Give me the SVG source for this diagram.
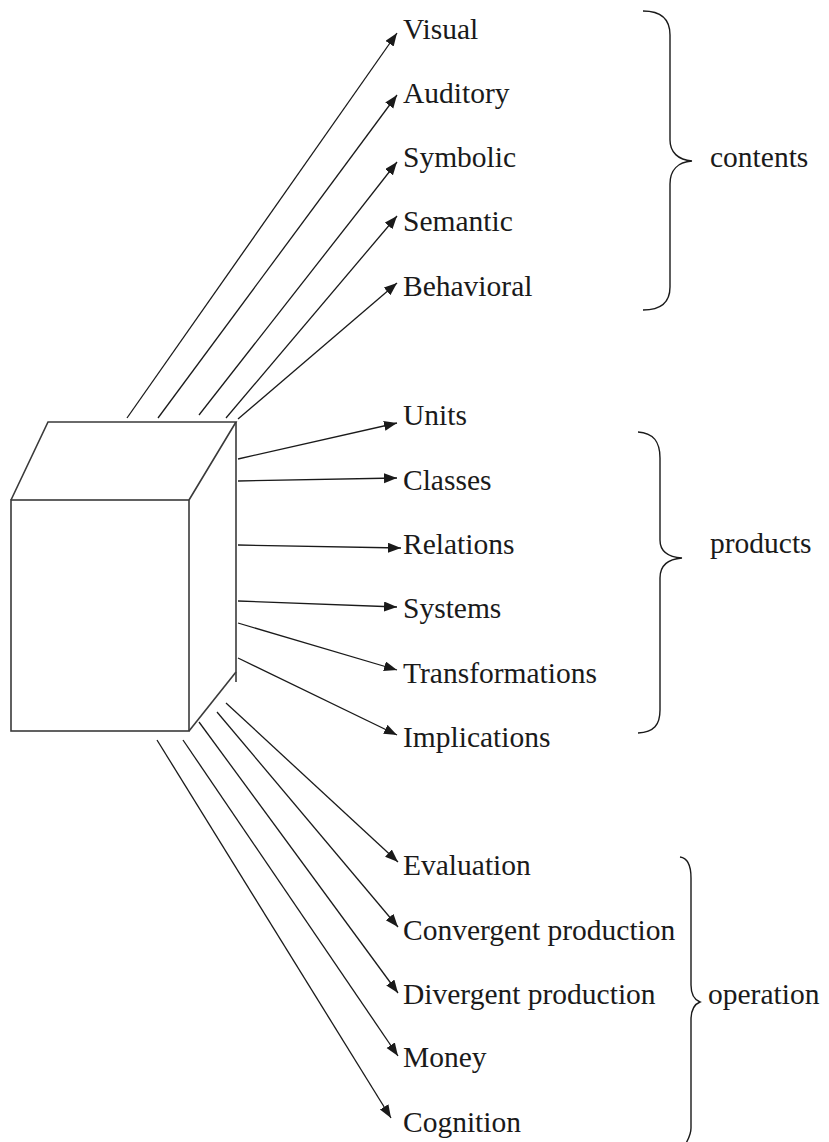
<svg xmlns="http://www.w3.org/2000/svg" width="829" height="1142" viewBox="0 0 829 1142">
<style>
.lbl{font-family:"Liberation Serif","Times New Roman",serif;font-size:29.5px;fill:#1a1a1a}
.cube{fill:none;stroke:#3a3a3a;stroke-width:1.6;stroke-linejoin:miter}
.arr{fill:none;stroke:#1a1a1a;stroke-width:1.3;marker-end:url(#ah)}
.brace{fill:none;stroke:#1a1a1a;stroke-width:1.4}
</style>
<defs>
<marker id="ah" markerUnits="userSpaceOnUse" markerWidth="14" markerHeight="12" viewBox="0 0 14 12" refX="13" refY="5" orient="auto">
<path d="M0,0 L13,5 L0,10 z" fill="#1a1a1a"/>
</marker>
</defs>
<rect width="829" height="1142" fill="#fff"/>
<g id="cube">
<rect class="cube" x="11" y="500" width="178" height="231"/>
<path class="cube" d="M11,500 L48,422 L236,422 L189,500"/>
<path class="cube" d="M236,422 L236,682"/>
<path class="cube" d="M236,672 L189,731"/>
</g>
<g id="connectors">
<line class="arr" x1="127" y1="418" x2="397" y2="33"/>
<line class="arr" x1="158" y1="418" x2="397" y2="95"/>
<line class="arr" x1="199" y1="415" x2="397" y2="162"/>
<line class="arr" x1="226" y1="418" x2="397" y2="216"/>
<line class="arr" x1="238" y1="419" x2="397" y2="283"/>
<line class="arr" x1="238" y1="459" x2="397" y2="423"/>
<line class="arr" x1="238" y1="481" x2="397" y2="478"/>
<line class="arr" x1="238" y1="545" x2="401" y2="548"/>
<line class="arr" x1="238" y1="601" x2="397" y2="607"/>
<line class="arr" x1="238" y1="623" x2="397" y2="670"/>
<line class="arr" x1="238" y1="658" x2="397" y2="735"/>
<line class="arr" x1="226" y1="703" x2="398" y2="862"/>
<line class="arr" x1="217" y1="712" x2="398" y2="927"/>
<line class="arr" x1="199" y1="722" x2="398" y2="993"/>
<line class="arr" x1="183" y1="740" x2="398" y2="1056"/>
<line class="arr" x1="157" y1="740" x2="391" y2="1118"/>
</g>
<g id="contents-items">
<text class="lbl" x="403" y="39">Visual</text>
<text class="lbl" x="403" y="103">Auditory</text>
<text class="lbl" x="403" y="167">Symbolic</text>
<text class="lbl" x="403" y="231">Semantic</text>
<text class="lbl" x="403" y="296">Behavioral</text>
</g>
<g id="products-items">
<text class="lbl" x="403" y="425">Units</text>
<text class="lbl" x="403" y="490">Classes</text>
<text class="lbl" x="403" y="554">Relations</text>
<text class="lbl" x="403" y="618">Systems</text>
<text class="lbl" x="403" y="683">Transformations</text>
<text class="lbl" x="403" y="747">Implications</text>
</g>
<g id="operation-items">
<text class="lbl" x="403" y="875">Evaluation</text>
<text class="lbl" x="403" y="940">Convergent production</text>
<text class="lbl" x="403" y="1004">Divergent production</text>
<text class="lbl" x="403" y="1067">Money</text>
<text class="lbl" x="403" y="1132">Cognition</text>
</g>
<g id="contents">
<path class="brace" d="M643,11 C662,11 670,20 670,35 L670,140 C670,152 678,160 692,161 C678,162 670,170 670,184 L670,287 C670,302 662,310 643,310"/>
<text class="lbl" x="710" y="167">contents</text>
</g>
<g id="products">
<path class="brace" d="M638,432 C654,433 660,442 660,458 L660,540 C660,552 668,557 682,558 C668,559 660,565 660,578 L660,710 C660,725 654,732 638,733"/>
<text class="lbl" x="710" y="553">products</text>
</g>
<g id="operation">
<path class="brace" d="M680,857 C688,858 691,865 691,878 L691,985 C691,995 695,1000 700,1002 C695,1004 691,1010 691,1020 L691,1128 C691,1135 688,1140 685,1145"/>
<text class="lbl" x="708" y="1004">operation</text>
</g>
</svg>
